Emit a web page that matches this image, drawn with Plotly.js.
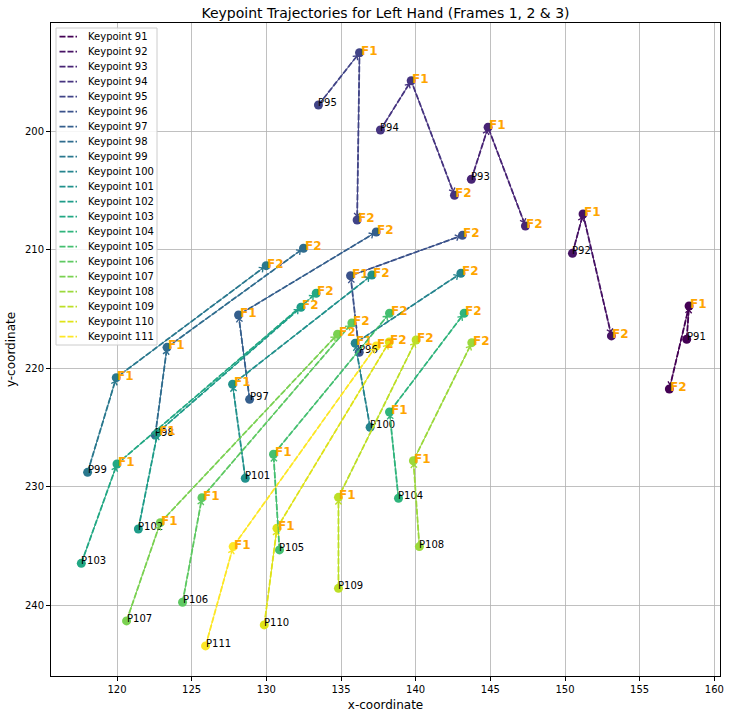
<!DOCTYPE html>
<html>
<head>
<meta charset="utf-8">
<script src="https://cdn.plot.ly/plotly-3.0.1.min.js"></script>
<style>
  html, body { margin: 0; padding: 0; background: #fff; }
  #chart { width: 730px; height: 717px; }
</style>
</head>
<body>
<div id="chart"></div>
<script>
// keypoints of the left hand, one trajectory each (frame 1 -> frame 2 -> frame 3)
const keypoints = [91, 92, 93, 94, 95, 96, 97, 98, 99, 100, 101, 102, 103, 104, 105, 106, 107, 108, 109, 110, 111];

// frame 1 (labelled P..)
const xP = [158.15, 150.50, 143.73, 137.64, 133.49, 136.22, 128.88, 122.56, 118.03, 136.95, 128.59,
            121.43, 117.61, 138.85, 130.88, 124.39, 120.64, 140.25, 134.83, 129.86, 125.93];
const yP = [217.55, 210.30, 204.05, 199.89, 197.78, 218.65, 222.62, 225.63, 228.78, 224.98, 229.28,
            233.56, 236.46, 230.97, 235.33, 239.75, 241.32, 235.05, 238.57, 241.66, 243.43];

// frame 2 (labelled F1)
const xF1 = [158.31, 151.21, 144.85, 139.70, 136.24, 135.64, 128.14, 123.35, 119.95, 135.95, 127.74,
             122.72, 120.00, 138.25, 130.48, 125.69, 122.90, 139.85, 134.83, 130.71, 127.78];
const yF1 = [214.74, 206.98, 199.66, 195.73, 193.37, 212.19, 215.50, 218.23, 220.79, 217.89, 221.35,
             225.43, 228.08, 223.69, 227.26, 230.92, 233.03, 227.80, 230.89, 233.50, 235.05];

// frame 3 (labelled F2)
const xF2 = [156.99, 153.11, 147.35, 142.60, 136.08, 143.13, 137.36, 132.49, 129.99, 143.03, 137.07,
             132.32, 133.34, 143.25, 138.25, 135.73, 134.77, 143.76, 140.03, 138.23, 137.36];
const yF2 = [221.75, 217.27, 207.99, 205.40, 207.49, 208.78, 208.50, 209.87, 211.34, 211.98, 212.13,
             214.85, 213.67, 215.36, 215.36, 216.18, 217.13, 217.84, 217.61, 217.78, 218.12];

// viridis, 21 steps
const viridis = ['#440154', '#471365', '#482475', '#463480', '#414487', '#3b528b', '#355f8d',
                 '#2f6c8e', '#2a788e', '#25848e', '#21918c', '#1e9c89', '#22a884', '#2fb47c',
                 '#44bf70', '#5ec962', '#7ad151', '#9bd93c', '#bddf26', '#dfe318', '#fde725'];

const W = 730, H = 717;
const M = {l: 51, r: 10, t: 23, b: 41};
const plotW = W - M.l - M.r, plotH = H - M.t - M.b;
function px2paperX(px) { return (px - M.l) / plotW; }
function px2paperY(py) { return 1 - (py - M.t) / plotH; }

let traces = [];
let annotations = [];
let shapes = [];

for (let i = 0; i < keypoints.length; i++) {
  let c = viridis[i];
  let xs = [xP[i], xF1[i], xF2[i]];
  let ys = [yP[i], yF1[i], yF2[i]];
  traces.push({
    x: xs,
    y: ys,
    type: 'scatter',
    mode: 'lines+markers',
    name: 'Keypoint ' + keypoints[i],
    showlegend: false,
    line: {color: c, width: 1.8, dash: '6px,2px'},
    marker: {color: c, size: 9},
    hoverinfo: 'skip'
  });

  // arrows frame to frame
  for (let j = 0; j < 2; j++) {
    annotations.push({
      x: xs[j + 1], y: ys[j + 1], ax: xs[j], ay: ys[j],
      xref: 'x', yref: 'y', axref: 'x', ayref: 'y',
      text: '', showarrow: true,
      arrowhead: 4, arrowsize: 1.2, arrowwidth: 1, arrowcolor: c,
      standoff: 3, startstandoff: 0
    });
  }

  // labels
  annotations.push({
    x: xP[i], y: yP[i], xref: 'x', yref: 'y',
    text: 'P' + keypoints[i], showarrow: false,
    xanchor: 'left', yanchor: 'bottom', xshift: -2, yshift: -5,
    font: {size: 10, color: '#000'}
  });
  annotations.push({
    x: xF1[i], y: yF1[i], xref: 'x', yref: 'y',
    text: '<b>F1</b>', showarrow: false,
    xanchor: 'left', yanchor: 'bottom', xshift: -1, yshift: -7,
    font: {size: 12, color: '#ffa500'}
  });
  annotations.push({
    x: xF2[i], y: yF2[i], xref: 'x', yref: 'y',
    text: '<b>F2</b>', showarrow: false,
    xanchor: 'left', yanchor: 'bottom', xshift: -1, yshift: -7,
    font: {size: 12, color: '#ffa500'}
  });
}

// legend box, drawn like the matplotlib one
shapes.push({
  type: 'rect', xref: 'paper', yref: 'paper', layer: 'above',
  x0: px2paperX(56), x1: px2paperX(157), y0: px2paperY(345), y1: px2paperY(28),
  fillcolor: 'rgba(255,255,255,0.85)', line: {color: '#cccccc', width: 1}
});
for (let i = 0; i < keypoints.length; i++) {
  let yy = px2paperY(36.7 + 15 * i);
  shapes.push({
    type: 'line', xref: 'paper', yref: 'paper', layer: 'above',
    x0: px2paperX(59.5), x1: px2paperX(77), y0: yy, y1: yy,
    line: {color: viridis[i], width: 1.8, dash: '6px,2px'}
  });
  annotations.push({
    x: px2paperX(86), y: yy, xref: 'paper', yref: 'paper',
    text: 'Keypoint ' + keypoints[i], showarrow: false,
    xanchor: 'left', yanchor: 'middle',
    font: {size: 10, color: '#000'}
  });
}

let layout = {
  width: W,
  height: H,
  margin: M,
  paper_bgcolor: '#ffffff',
  plot_bgcolor: '#ffffff',
  font: {family: 'DejaVu Sans', size: 10, color: '#000'},
  showlegend: false,
  title: {
    text: 'Keypoint Trajectories for Left Hand (Frames 1, 2 & 3)',
    font: {size: 14, color: '#000'},
    x: 0.5, xref: 'paper', xanchor: 'center',
    y: 1 - 13 / H, yref: 'container', yanchor: 'middle'
  },
  xaxis: {
    range: [115.58, 160.38],
    tick0: 120, dtick: 5,
    ticks: 'outside', ticklen: 4, tickcolor: '#000', tickwidth: 1,
    showline: true, mirror: true, linecolor: '#000', linewidth: 1,
    showgrid: true, gridcolor: '#b0b0b0', gridwidth: 0.8,
    zeroline: false,
    tickfont: {size: 10},
    title: {text: 'x-coordinate', font: {size: 12}, standoff: 6}
  },
  yaxis: {
    range: [245.97, 190.86],
    tick0: 200, dtick: 10,
    ticks: 'outside', ticklen: 4, tickcolor: '#000', tickwidth: 1,
    showline: true, mirror: true, linecolor: '#000', linewidth: 1,
    showgrid: true, gridcolor: '#b0b0b0', gridwidth: 0.8,
    zeroline: false,
    tickfont: {size: 10},
    title: {text: 'y-coordinate', font: {size: 12}, standoff: 6}
  },
  shapes: shapes,
  annotations: annotations
};

Plotly.newPlot('chart', traces, layout, {displayModeBar: false, staticPlot: true});
</script>
</body>
</html>
